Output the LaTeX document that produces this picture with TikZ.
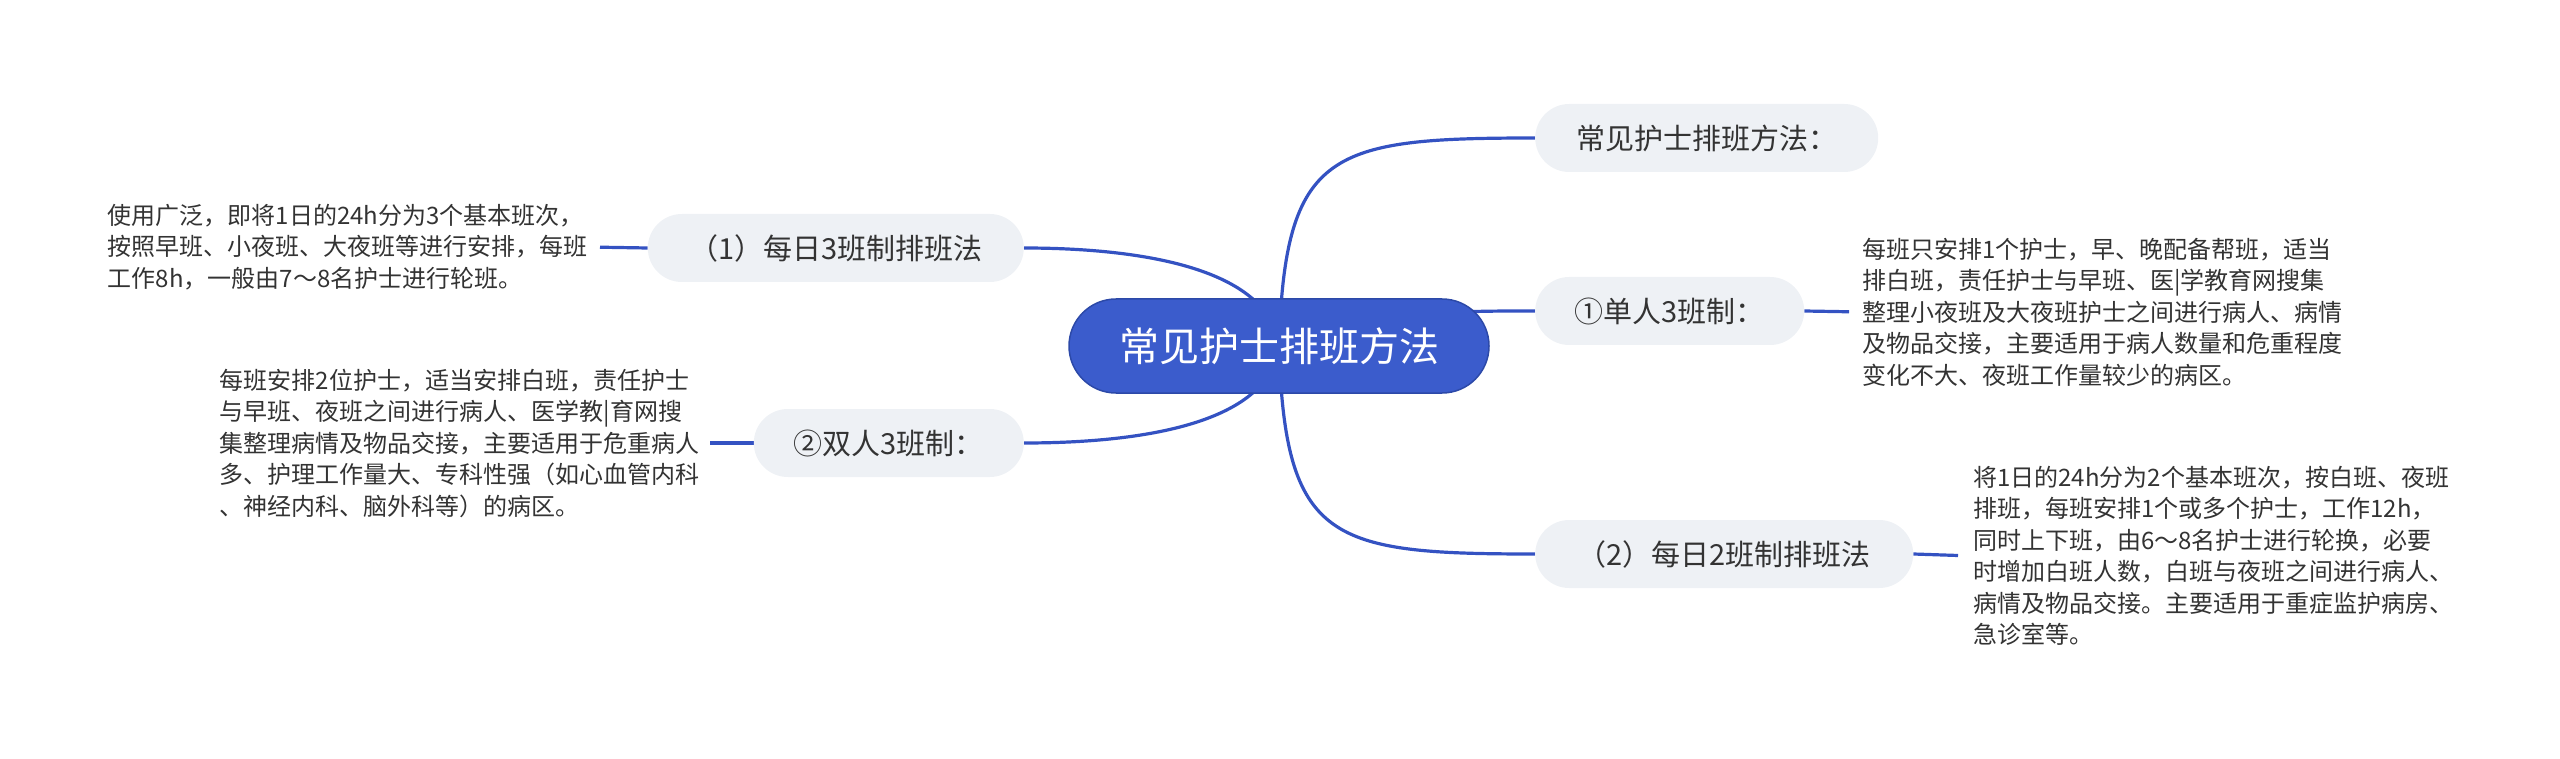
\documentclass[tikz,border=0pt]{standalone}
\usepackage{fontspec}
\setmainfont{Noto Sans CJK SC}
\usetikzlibrary{backgrounds}
\definecolor{rootblue}{HTML}{3B5CCC}
\definecolor{rootedge}{HTML}{2C49A8}
\definecolor{linkblue}{HTML}{3452C2}
\definecolor{topicgray}{HTML}{EEF1F5}
\definecolor{txt}{HTML}{333333}
\begin{document}
\begin{tikzpicture}[x=1pt,y=-1pt,
  rootnode/.style={draw=rootedge, line width=1.5pt, fill=rootblue, text=white,
    rounded corners=47pt, minimum height=94pt, inner sep=0pt,
    font=\fontsize{40}{48}\selectfont},
  topic/.style={fill=topicgray, rounded corners=34pt, minimum height=68pt,
    inner sep=0pt, text=txt, font=\fontsize{29}{35}\selectfont},
  desc/.style={align=left, inner sep=0pt, text=txt,
    font=\fontsize{24}{31.5}\selectfont},
  link/.style={draw=linkblue, line width=3.2pt},
]
\useasboundingbox (0,0) rectangle (2560,759);

\node[rootnode, minimum width=420pt] (root) at (1279,346) {常见护士排班方法};
\node[topic, minimum width=343pt, anchor=west] (n1) at (1535,138) {常见护士排班方法：};
\node[topic, minimum width=269pt, anchor=west] (n2) at (1535,311) {①单人3班制：};
\node[topic, minimum width=378pt, anchor=west] (n3) at (1535,554) {（2）每日2班制排班法};
\node[topic, minimum width=376pt, anchor=east] (n4) at (1024,248) {（1）每日3班制排班法};
\node[topic, minimum width=270pt, anchor=east] (n5) at (1024,443) {②双人3班制：};

\node[desc, anchor=west] (d1) at (1862,312) {每班只安排1个护士，早、晚配备帮班，适当\\
排白班，责任护士与早班、医|学教育网搜集\\
整理小夜班及大夜班护士之间进行病人、病情\\
及物品交接，主要适用于病人数量和危重程度\\
变化不大、夜班工作量较少的病区。};
\node[desc, anchor=west] (d2) at (1973,556) {将1日的24h分为2个基本班次，按白班、夜班\\
排班，每班安排1个或多个护士，工作12h，\\
同时上下班，由6～8名护士进行轮换，必要\\
时增加白班人数，白班与夜班之间进行病人、\\
病情及物品交接。主要适用于重症监护病房、\\
急诊室等。};
\node[desc, anchor=east] (d3) at (588,247) {使用广泛，即将1日的24h分为3个基本班次，\\
按照早班、小夜班、大夜班等进行安排，每班\\
工作8h，一般由7～8名护士进行轮班。};
\node[desc, anchor=east] (d4) at (700,443) {每班安排2位护士，适当安排白班，责任护士\\
与早班、夜班之间进行病人、医学教|育网搜\\
集整理病情及物品交接，主要适用于危重病人\\
多、护理工作量大、专科性强（如心血管内科\\
、神经内科、脑外科等）的病区。};

\begin{pgfonlayer}{background}
\draw[link] (root.center) .. controls +(6,-196) and +(-205,0) .. (n1.west);
\draw[link] (root.center) .. controls +(150,-35) and +(-100,0) .. (n2.west);
\draw[link] (root.center) .. controls +(6,196) and +(-205,0) .. (n3.west);
\draw[link] (root.center) .. controls +(-10,-80) and +(110,0) .. (n4.east);
\draw[link] (root.center) .. controls +(-10,80) and +(110,0) .. (n5.east);
\draw[link, shorten >=13pt] (n2.east) -- (d1.west);
\draw[link, shorten >=15pt] (n3.east) -- (d2.west);
\draw[link, shorten >=12pt] (n4.west) -- (d3.east);
\draw[link, shorten >=10pt] (n5.west) -- (d4.east);
\end{pgfonlayer}
\end{tikzpicture}
\end{document}
